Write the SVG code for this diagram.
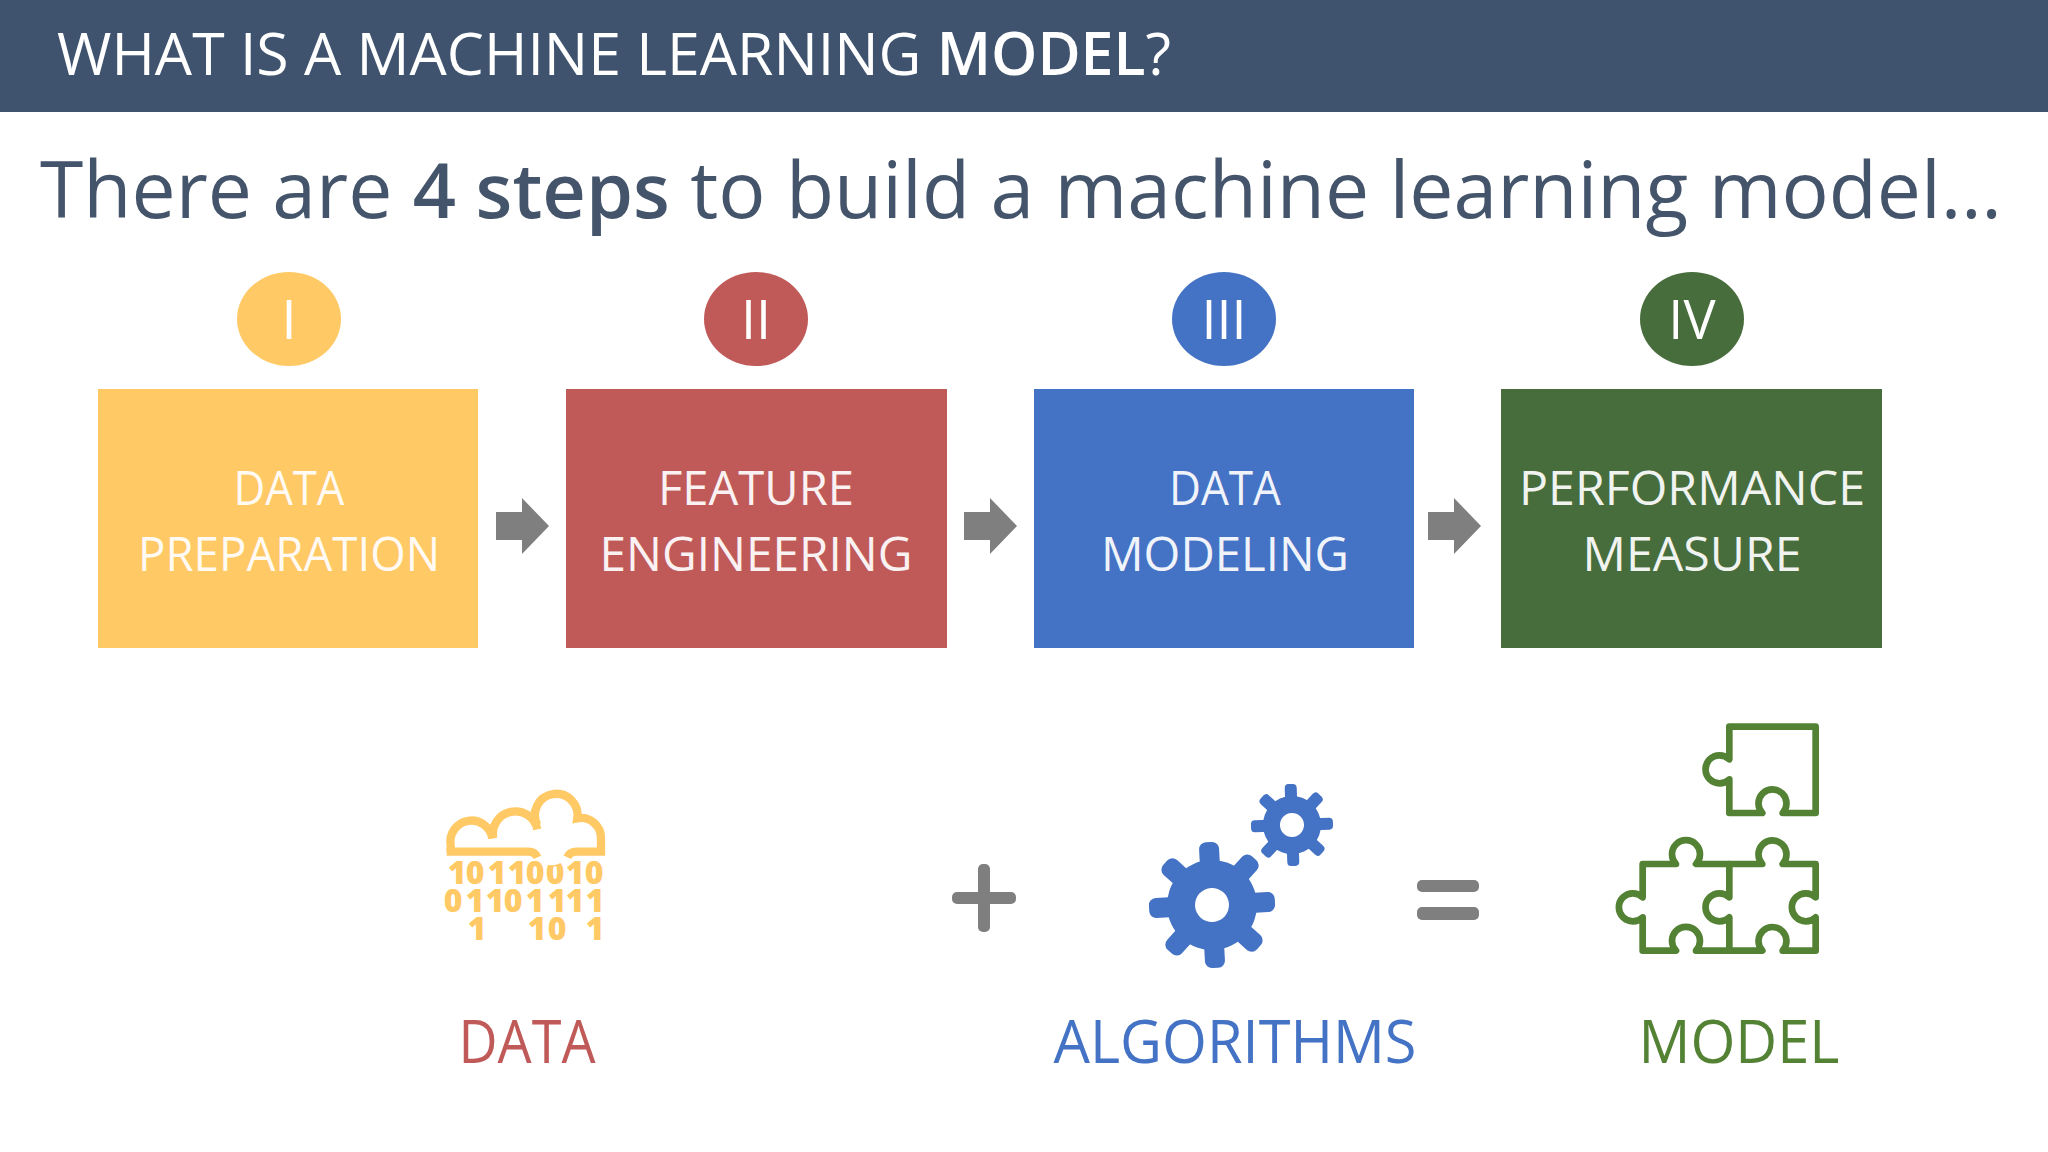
<svg xmlns="http://www.w3.org/2000/svg" width="2048" height="1152" viewBox="0 0 2048 1152">
<defs>
<style>
text{font-family:"Open Sans","Noto Sans","Liberation Sans",sans-serif;font-weight:400}
.lbl{font-size:47px;fill:#fff;text-anchor:middle;opacity:.92}
.num{font-size:54px;fill:#fff;text-anchor:middle}
.big{font-size:60px;text-anchor:middle}
.pz{fill:none;stroke:#548235;stroke-width:20;stroke-linejoin:round;stroke-linecap:round}
.bin{font-family:"Open Sans",sans-serif;font-weight:800;font-size:32px;fill:#ffc966;text-anchor:middle}
.arrow{fill:#7f7f7f}
</style>
<path id="arr" d="M0,-14 H26 V-28 L53,0 L26,28 V14 H0 Z"/>
</defs>
<rect width="2048" height="1152" fill="#fff"/>
<g id="header"><rect width="2048" height="112" fill="#3f536e"/>
<text x="57" y="75" font-size="59" fill="#fff" textLength="1114" lengthAdjust="spacingAndGlyphs">WHAT IS A MACHINE LEARNING <tspan style="font-weight:600">MODEL</tspan>?</text></g>
<text id="subtitle" x="40" y="218" font-size="79" fill="#44546a" textLength="1962" lengthAdjust="spacingAndGlyphs">There are <tspan style="font-weight:600" font-size="76">4 steps</tspan> to build a machine learning model…</text>
<g id="step1"><ellipse cx="289" cy="319" rx="52" ry="47" fill="#ffc966"/><text class="num" x="289" y="339">I</text>
<rect x="98" y="389" width="380" height="259" fill="#ffc966"/><text class="lbl" x="289" y="505" textLength="111" lengthAdjust="spacingAndGlyphs">DATA</text><text class="lbl" x="289" y="571" textLength="302" lengthAdjust="spacingAndGlyphs">PREPARATION</text></g>
<g id="step2"><ellipse cx="756" cy="319" rx="52" ry="47" fill="#c05a59"/><text class="num" x="756" y="339">II</text>
<rect x="566" y="389" width="381" height="259" fill="#c05a59"/><text class="lbl" x="756" y="505" textLength="196" lengthAdjust="spacingAndGlyphs">FEATURE</text><text class="lbl" x="756" y="571" textLength="313" lengthAdjust="spacingAndGlyphs">ENGINEERING</text></g>
<g id="step3"><ellipse cx="1224" cy="319" rx="52" ry="47" fill="#4472c4"/><text class="num" x="1224" y="339">III</text>
<rect x="1034" y="389" width="380" height="259" fill="#4472c4"/><text class="lbl" x="1225" y="505" textLength="112" lengthAdjust="spacingAndGlyphs">DATA</text><text class="lbl" x="1225" y="571" textLength="248" lengthAdjust="spacingAndGlyphs">MODELING</text></g>
<g id="step4"><ellipse cx="1692" cy="319" rx="52" ry="47" fill="#466d3b"/><text class="num" x="1692" y="339">IV</text>
<rect x="1501" y="389" width="381" height="259" fill="#466d3b"/><text class="lbl" x="1692" y="505" textLength="346" lengthAdjust="spacingAndGlyphs">PERFORMANCE</text><text class="lbl" x="1692" y="571" textLength="219" lengthAdjust="spacingAndGlyphs">MEASURE</text></g>
<g id="connectors" class="arrow">
<use href="#arr" x="496" y="526"/><use href="#arr" x="964" y="526"/><use href="#arr" x="1428" y="526"/>
</g>
<g id="data">
<text class="bin" x="457 475 497 517 535 555 575 594" y="884">10110010</text>
<text class="bin" x="453 475 495 513 535 557 575 595" y="912">01101111</text>
<text class="bin" x="477 537 557 595" y="940">1101</text>
<g transform="translate(420,770) scale(.3333)" fill="none" stroke="#ffc966" stroke-width="25">
<circle cx="395" cy="232" r="54" fill="#fff" stroke="none"/>
<path d="M92,245 V225 A63,63 0 0 1 217,205"/>
<path d="M80,245 H325 Q345,245 352,262"/>
<path d="M220,205 A66,66 0 1 1 352,178"/>
<path d="M352,165 A64,64 0 1 1 472,145 A60,60 0 0 1 543,205 V245 H470 Q450,245 442,262"/>
</g>
<text class="big" x="527" y="1063" fill="#c05a59" textLength="137" lengthAdjust="spacingAndGlyphs">DATA</text></g>
<g id="plus" fill="#7f7f7f"><rect x="952" y="892" width="64" height="12" rx="5"/><rect x="978" y="864" width="12" height="68" rx="5"/></g>
<g id="algorithms" fill="#4472c4">
<g transform="translate(1212,905) rotate(-3)"><path fill-rule="evenodd" d="M-45,0A45,45 0 1 0 45,0A45,45 0 1 0 -45,0ZM-17,0A17,17 0 1 1 17,0A17,17 0 1 1 -17,0Z"/>
<g id="t1"><rect x="-10" y="-63" width="20" height="40" rx="7"/><rect x="-10" y="23" width="20" height="40" rx="7"/><rect x="-63" y="-10" width="40" height="20" rx="7"/><rect x="23" y="-10" width="40" height="20" rx="7"/></g>
<use href="#t1" transform="rotate(45)"/></g>
<g transform="translate(1292,825) rotate(-2)"><path fill-rule="evenodd" d="M-29,0A29,29 0 1 0 29,0A29,29 0 1 0 -29,0ZM-12,0A12,12 0 1 1 12,0A12,12 0 1 1 -12,0Z"/>
<g id="t2"><rect x="-6" y="-41" width="12" height="24" rx="4"/><rect x="-6" y="17" width="12" height="24" rx="4"/><rect x="-41" y="-6" width="24" height="12" rx="4"/><rect x="17" y="-6" width="24" height="12" rx="4"/></g>
<use href="#t2" transform="rotate(45)"/></g>
<text class="big" x="1235" y="1063" fill="#4472c4" textLength="363" lengthAdjust="spacingAndGlyphs">ALGORITHMS</text></g>
<g id="equals" fill="#7f7f7f"><rect x="1417" y="880" width="62" height="12" rx="5"/><rect x="1417" y="907" width="62" height="13" rx="5"/></g>
<g id="model">
<g transform="translate(1600,710) scale(.3333)" class="pz">
<path d="M388,50 H647 V309 H548 A42,42 0 1 0 487,309 H388 V208 A42,42 0 1 1 388,148 Z"/>
<path d="M128,462 H228 A42,42 0 1 1 288,462 H487 A42,42 0 1 1 548,462 H647 V562 A42,42 0 1 0 647,622 V722 H548 A42,42 0 1 0 487,722 H288 A42,42 0 1 0 228,722 H128 V622 A42,42 0 1 1 128,562 Z"/>
<path d="M388,462 V562 A42,42 0 1 0 388,622 V722"/>
</g>
<text class="big" x="1739" y="1063" fill="#548235" textLength="201" lengthAdjust="spacingAndGlyphs">MODEL</text></g>
</svg>
